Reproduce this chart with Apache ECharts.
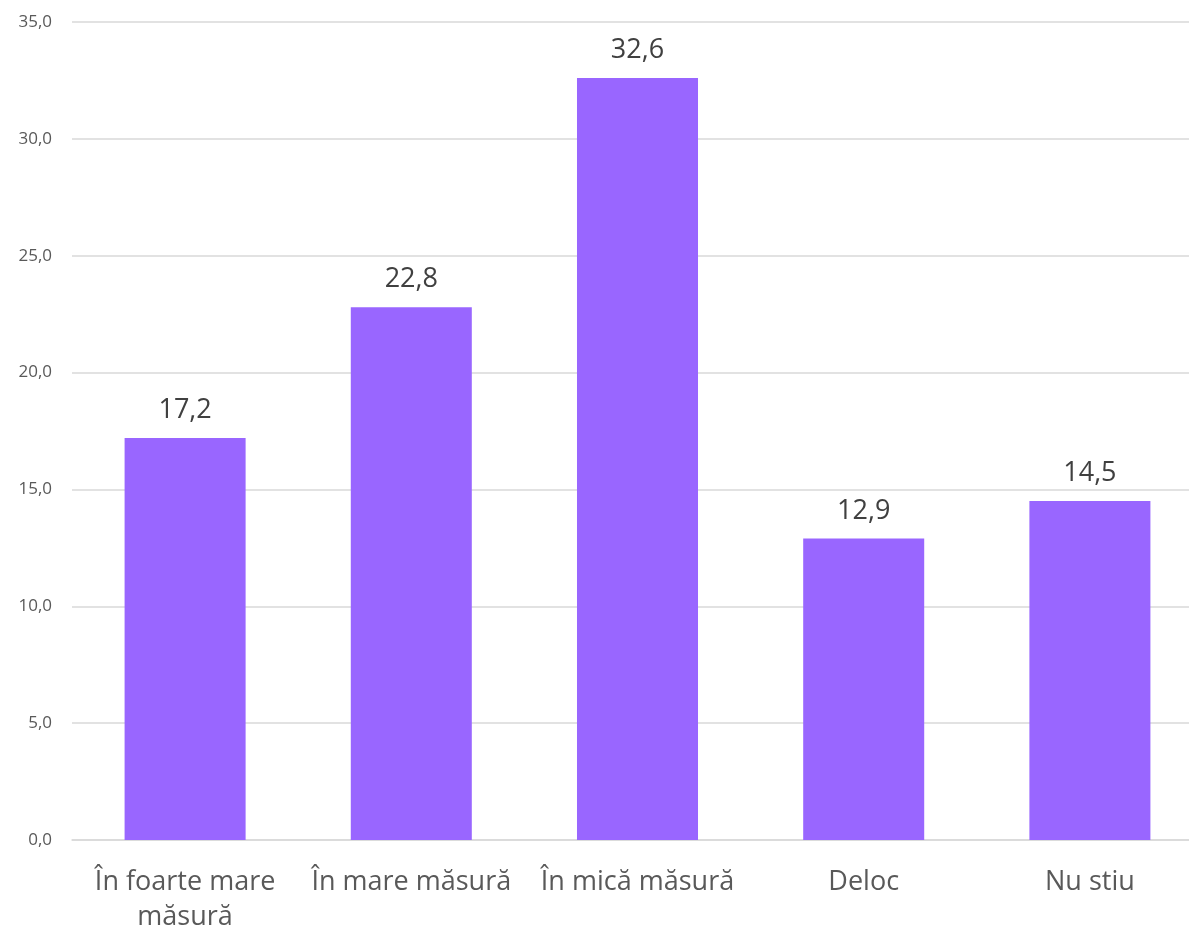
<!DOCTYPE html>
<html>
<head>
<meta charset="utf-8">
<script src="https://cdn.jsdelivr.net/npm/echarts@6/dist/echarts.min.js"></script>
<style>
html,body{margin:0;padding:0;background:#fff;overflow:hidden;width:1189px;height:935px;}
#chart{width:1203px;height:935px;}
</style>
</head>
<body>
<div id="chart"></div>
<script>
const categories = ["În foarte mare\nmăsură", "În mare măsură", "În mică măsură", "Deloc", "Nu stiu"];
const values = [17.2, 22.8, 32.6, 12.9, 14.5];
const yMin = 0, yMax = 35, yStep = 5;

const chart = echarts.init(document.getElementById('chart'), null, {renderer: 'canvas'});
chart.setOption({
  backgroundColor: '#ffffff',
  animation: false,
  grid: {left: 72, top: 22, width: 1131, height: 820, containLabel: false},
  xAxis: {
    type: 'category',
    data: categories,
    axisLine: {show: true, lineStyle: {color: '#D9D9D9', width: 1.5}},
    axisTick: {show: false},
    axisLabel: {
      interval: 0, margin: 25, color: '#595959',
      fontFamily: 'Open Sans', fontSize: 27, lineHeight: 35
    }
  },
  yAxis: {
    type: 'value', min: yMin, max: yMax, interval: yStep,
    axisLine: {show: false}, axisTick: {show: false},
    splitLine: {lineStyle: {color: '#D9D9D9', width: 1.5}},
    axisLabel: {
      margin: 20, color: '#595959', fontFamily: 'Open Sans', fontSize: 17,
      formatter: v => v.toFixed(1).replace('.', ',')
    }
  },
  series: [{
    type: 'bar',
    data: values,
    barWidth: '53.5%',
    itemStyle: {color: '#9966FF'},
    label: {
      show: true, position: 'top', distance: 14,
      color: '#404040', fontFamily: 'Open Sans', fontSize: 27,
      formatter: p => p.value.toFixed(1).replace('.', ',')
    }
  }]
});
</script>
</body>
</html>
